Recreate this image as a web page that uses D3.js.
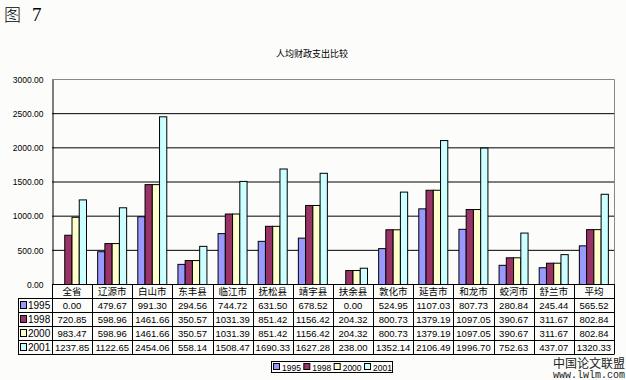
<!DOCTYPE html>
<html lang="zh">
<head>
<meta charset="UTF-8">
<title>人均财政支出比较</title>
<script src="https://d3js.org/d3.v7.min.js"></script>
<style>
  body { margin: 0; background: #fcfcfa; }
  svg text { font-family: "Noto Sans CJK SC", "DejaVu Sans", sans-serif; }
</style>
</head>
<body>
<div id="chart"></div>
<script>
// data
const categories = ["全省", "辽源市", "白山市", "东丰县", "临江市", "抚松县", "靖宇县",
  "扶余县", "敦化市", "延吉市", "和龙市", "蛟河市", "舒兰市", "平均"];
const years = ["1995", "1998", "2000", "2001"];
const v1995 = [0.00, 479.67, 991.30, 294.56, 744.72, 631.50, 678.52, 0.00, 524.95, 1107.03, 807.73, 280.84, 245.44, 565.52];
const v1998 = [720.85, 598.96, 1461.66, 350.57, 1031.39, 851.42, 1156.42, 204.32, 800.73, 1379.19, 1097.05, 390.67, 311.67, 802.84];
const v2000 = [983.47, 598.96, 1461.66, 350.57, 1031.39, 851.42, 1156.42, 204.32, 800.73, 1379.19, 1097.05, 390.67, 311.67, 802.84];
const v2001 = [1237.85, 1122.65, 2454.06, 558.14, 1508.47, 1690.33, 1627.28, 238.00, 1352.14, 2106.49, 1996.70, 752.63, 437.07, 1320.33];
const yTicks = [0, 500, 1000, 1500, 2000, 2500, 3000];
const colors = ["#9999ff", "#993366", "#ffffcc", "#ccffff"];

const series = [v1995, v1998, v2000, v2001];
const numFont = "'Liberation Sans', Arial, sans-serif";

const width = 626, height = 380;
const svg = d3.select("#chart").append("svg")
  .attr("width", width).attr("height", height);

svg.append("rect").attr("width", width).attr("height", height).attr("fill", "#fcfcfa");

const pLeft = 52, pRight = 614, pTop = 79, pBottom = 284;

const x = d3.scaleBand().domain(categories).range([pLeft, pRight]);
const xs = d3.scaleBand().domain(years).range([5, 34]);
const y = d3.scaleLinear().domain([0, 3000]).range([pBottom, pTop]);

// figure label
svg.append("text").attr("x", 4).attr("y", 21)
  .style("font-size", "17px").style("font-weight", 300)
  .text("图");
svg.append("text").attr("x", 32).attr("y", 21)
  .style("font-size", "19px").style("font-family", "'Liberation Serif', serif")
  .text("7");

// title
svg.append("text").attr("x", 312).attr("y", 57)
  .attr("text-anchor", "middle").style("font-size", "9px")
  .text("人均财政支出比较");

// gridlines
svg.append("g").selectAll("line").data(yTicks.filter(d => d > 0 && d < 3000)).join("line")
  .attr("x1", pLeft).attr("x2", pRight)
  .attr("y1", d => y(d) + 0.5).attr("y2", d => y(d) + 0.5)
  .attr("stroke", "#000");

// plot border (top/right gray)
svg.append("path")
  .attr("d", `M${pLeft},${pTop + 0.5}H${pRight + 0.5}V${pBottom}`)
  .attr("fill", "none").attr("stroke", "#888");

// y axis
const yAxis = svg.append("g").attr("transform", `translate(${pLeft + 0.5},0.5)`)
  .call(d3.axisLeft(y).tickValues(yTicks).tickSize(0).tickPadding(9).tickFormat(d3.format(".2f")));
yAxis.select(".domain").attr("stroke", "#000");
yAxis.selectAll("text").style("font-size", "8.5px").style("font-family", numFont)
  .attr("fill", "#000");

// bars
const groups = svg.append("g").selectAll("g").data(categories).join("g")
  .attr("transform", d => `translate(${x(d)},0)`);
groups.selectAll("rect")
  .data((c, i) => years.map((yr, k) => ({ yr, k, v: series[k][i] })).filter(d => d.v > 0))
  .join("rect")
  .attr("x", d => xs(d.yr) + 0.5)
  .attr("y", d => y(d.v) + 0.5)
  .attr("width", xs.bandwidth())
  .attr("height", d => pBottom - y(d.v))
  .attr("fill", d => colors[d.k])
  .attr("stroke", "#000").attr("stroke-width", 1);

// data table
const tLeft = 18, rowH = 14;
const tbl = svg.append("g");
tbl.append("line").attr("x1", pLeft).attr("x2", pRight + 0.5)
  .attr("y1", pBottom + 0.5).attr("y2", pBottom + 0.5).attr("stroke", "#000");
d3.range(1, 6).forEach(r => {
  tbl.append("line").attr("x1", tLeft).attr("x2", pRight + 0.5)
    .attr("y1", pBottom + r * rowH + 0.5).attr("y2", pBottom + r * rowH + 0.5)
    .attr("stroke", "#000");
});
tbl.append("line").attr("x1", tLeft + 0.5).attr("x2", tLeft + 0.5)
  .attr("y1", pBottom + rowH).attr("y2", pBottom + 5 * rowH).attr("stroke", "#000");
categories.concat(["_end"]).forEach((c, i) => {
  const xx = i < categories.length ? x(c) : pRight;
  tbl.append("line").attr("x1", Math.round(xx) + 0.5).attr("x2", Math.round(xx) + 0.5)
    .attr("y1", pBottom).attr("y2", pBottom + 5 * rowH).attr("stroke", "#000");
});
tbl.selectAll("text.cat").data(categories).join("text")
  .attr("class", "cat")
  .attr("x", d => x(d) + x.bandwidth() / 2).attr("y", pBottom + 11)
  .attr("text-anchor", "middle").style("font-size", "9.5px")
  .text(d => d);
years.forEach((yr, k) => {
  const ry = pBottom + (k + 1) * rowH;
  tbl.append("rect").attr("x", 20.5).attr("y", ry + 3.5).attr("width", 6).attr("height", 7)
    .attr("fill", colors[k]).attr("stroke", "#000");
  tbl.append("text").attr("x", 28).attr("y", ry + 11)
    .style("font-size", "10px").style("font-family", numFont).text(yr);
  tbl.selectAll(null).data(series[k]).join("text")
    .attr("x", (d, i) => x(categories[i]) + x.bandwidth() / 2)
    .attr("y", ry + 11)
    .attr("text-anchor", "middle")
    .style("font-size", "9.5px").style("font-family", numFont)
    .text(d => d3.format(".2f")(d));
});

// legend
const lg = svg.append("g").attr("transform", "translate(271,361)");
lg.append("rect").attr("x", 0.5).attr("y", 0.5).attr("width", 121).attr("height", 11)
  .attr("fill", "#fcfcfa").attr("stroke", "#000");
const lgX = d3.scalePoint().domain(years).range([2, 93]);
years.forEach((yr, k) => {
  lg.append("rect").attr("x", lgX(yr) + 0.5).attr("y", 2.5).attr("width", 6).attr("height", 6)
    .attr("fill", colors[k]).attr("stroke", "#000");
  lg.append("text").attr("x", lgX(yr) + 9).attr("y", 9.5)
    .style("font-size", "8.5px").style("font-family", numFont).text(yr);
});

// source mark
svg.append("text").attr("x", 625).attr("y", 368).attr("text-anchor", "end")
  .style("font-size", "12px").attr("fill", "#222").text("中国论文联盟");
svg.append("text").attr("x", 625).attr("y", 378).attr("text-anchor", "end")
  .style("font-size", "10px").style("font-family", "'Liberation Mono', monospace").attr("fill", "#222")
  .text("www.lwlm.com");
</script>
</body>
</html>
